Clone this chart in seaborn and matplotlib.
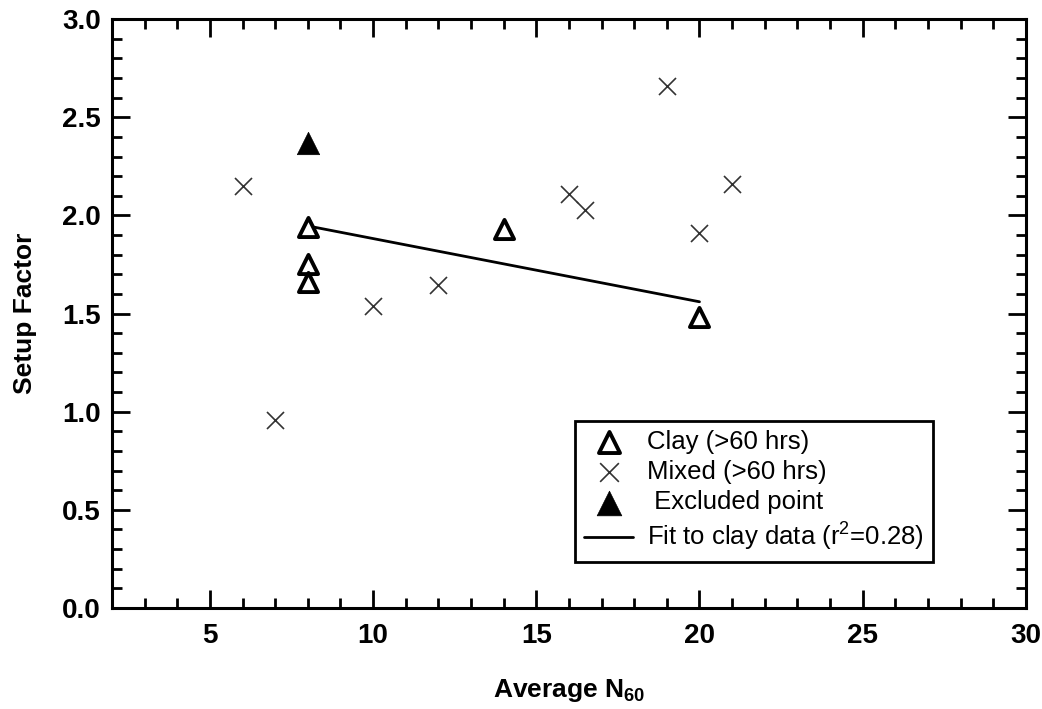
import matplotlib
matplotlib.use('Agg')
import matplotlib.pyplot as plt
import seaborn as sns
import numpy as np
import pandas as pd
from matplotlib.ticker import MultipleLocator

# dane
clay_n60 = [8, 8, 8, 14, 20]
clay_setup = [1.94, 1.75, 1.66, 1.93, 1.48]

mixed_n60 = [6, 7, 10, 12, 16, 16.5, 19, 20, 21]
mixed_setup = [2.15, 0.96, 1.54, 1.645, 2.11, 2.03, 2.66, 1.91, 2.16]

excluded_n60 = [8]
excluded_setup = [2.37]

fit_n60 = [8.2, 20]
fit_setup = [1.94, 1.56]

clay = pd.DataFrame({'n60': clay_n60, 'setup': clay_setup})
mixed = pd.DataFrame({'n60': mixed_n60, 'setup': mixed_setup})
excluded = pd.DataFrame({'n60': excluded_n60, 'setup': excluded_setup})
fit = pd.DataFrame({'n60': fit_n60, 'setup': fit_setup})

sns.set_style('ticks')
plt.rcParams['font.family'] = ['Liberation Sans', 'DejaVu Sans']
plt.rcParams['mathtext.fontset'] = 'custom'
plt.rcParams['mathtext.rm'] = 'Liberation Sans'
#czarny tekst zamiast szarego z seaborn
plt.rcParams['text.color'] = 'black'
plt.rcParams['axes.labelcolor'] = 'black'
plt.rcParams['xtick.color'] = 'black'
plt.rcParams['ytick.color'] = 'black'

fig = plt.figure(figsize=(10.42, 7.09), dpi=100)
ax = fig.add_axes([0.1075, 0.1425, 0.877, 0.8305])

sns.lineplot(data=fit, x='n60', y='setup', ax=ax, color='black', linewidth=2.0,
             label='Fit to clay data (r$\\mathregular{^2}$=0.28)')
sns.scatterplot(data=clay, x='n60', y='setup', ax=ax, marker='^', s=190,
                facecolor='white', edgecolor='black', linewidth=2.8,
                label='Clay (>60 hrs)', zorder=3)
sns.scatterplot(data=mixed, x='n60', y='setup', ax=ax, marker='x', s=150,
                color='#333333', linewidth=1.2, label='Mixed (>60 hrs)', zorder=3)
sns.scatterplot(data=excluded, x='n60', y='setup', ax=ax, marker='^', s=260,
                color='black', edgecolor='black', linewidth=0.5,
                label=' Excluded point', zorder=3)

ax.set_xlim(2, 30)
ax.set_ylim(0, 3)
ax.xaxis.set_major_locator(MultipleLocator(5))
ax.xaxis.set_minor_locator(MultipleLocator(1))
ax.yaxis.set_major_locator(MultipleLocator(0.5))
ax.yaxis.set_minor_locator(MultipleLocator(0.1))
ax.set_yticks(np.arange(0, 3.01, 0.5), labels=[f'{v:.1f}' for v in np.arange(0, 3.01, 0.5)])

ax.tick_params(which='both', direction='in', top=True, right=True, width=2.0, color='black')
ax.tick_params(which='major', length=13, labelsize=20)
ax.tick_params(which='minor', length=7)
ax.tick_params(axis='x', which='major', pad=11)
ax.tick_params(axis='y', which='major', pad=8)
for lab in ax.get_xticklabels() + ax.get_yticklabels():
    lab.set_fontweight('bold')
for sp in ax.spines.values():
    sp.set_linewidth(2.2)
    sp.set_color('black')

ax.set_xlabel('Average N$\\mathregular{_{60}}$', fontsize=19, fontweight='bold', labelpad=20)
ax.set_ylabel('Setup Factor', fontsize=19, fontweight='bold', labelpad=18)

handles, labels = ax.get_legend_handles_labels()
order = [1, 2, 3, 0]
leg = ax.legend([handles[i] for i in order], [labels[i] for i in order],
                loc='lower left', bbox_to_anchor=(0.507, 0.078), borderaxespad=0,
                fontsize=18.5, frameon=True, fancybox=False, framealpha=1,
                edgecolor='black', handlelength=1.9, handletextpad=0.55,
                labelspacing=0.25, borderpad=0.35, markerscale=1.1)
leg.get_frame().set_linewidth(2.0)

fig.savefig('out.png', dpi=100)
